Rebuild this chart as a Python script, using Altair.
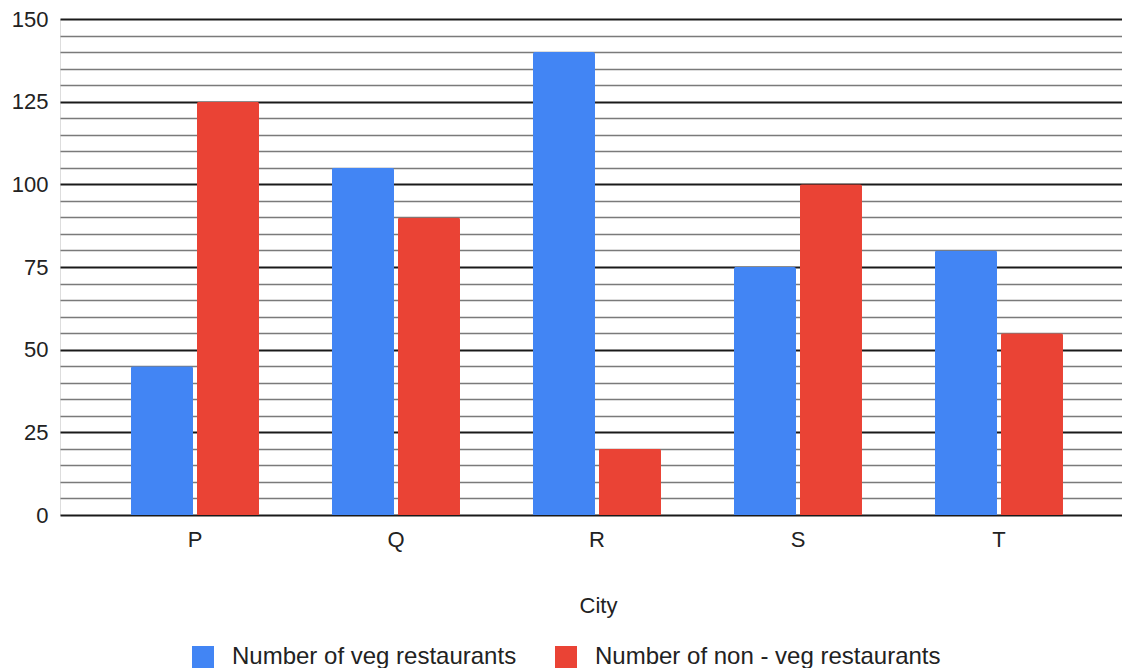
import altair as alt
import pandas as pd

cities = ["P", "Q", "R", "S", "T"]
veg = [45, 105, 140, 75, 80]
nonveg = [125, 90, 20, 100, 55]
series_names = ["Number of veg restaurants", "Number of non - veg restaurants"]
colors = ["#4285F4", "#EA4335"]
y_ticks = list(range(0, 151, 5))

rows = []
for c, v, n in zip(cities, veg, nonveg):
    rows.append({"City": c, "Series": series_names[0], "Value": v})
    rows.append({"City": c, "Series": series_names[1], "Value": n})
df = pd.DataFrame(rows)

FONT = "Liberation Sans"

chart = alt.Chart(df).mark_bar(cornerRadiusTopLeft=2, cornerRadiusTopRight=2).encode(
    x=alt.X("City:N", sort=cities,
            scale=alt.Scale(paddingInner=0.363, paddingOuter=0.3233, align=0.546),
            axis=alt.Axis(title="City", labelAngle=0, ticks=False, domain=False,
                          labelFontSize=22, labelColor="#222", labelFont=FONT,
                          labelPadding=14, titleFont=FONT, titleFontSize=22,
                          titleFontWeight="normal", titleColor="#222", titlePadding=45,
                          titleX=538)),
    xOffset=alt.XOffset("Series:N", sort=series_names,
                        scale=alt.Scale(paddingInner=0.06)),
    y=alt.Y("Value:Q", scale=alt.Scale(domain=[0, 150], nice=False),
            axis=alt.Axis(title=None, values=y_ticks, ticks=False, domain=False,
                          labelExpr="datum.value % 25 === 0 ? datum.label : ''",
                          labelFontSize=22, labelColor="#222", labelFont=FONT,
                          labelPadding=12,
                          gridColor=alt.condition("datum.value % 25 === 0",
                                                  alt.value("#1a1a1a"), alt.value("#7a7a7a")),
                          gridWidth=alt.condition("datum.value % 25 === 0",
                                                  alt.value(1.8), alt.value(1.5)),
                          gridOpacity=1)),
    color=alt.Color("Series:N", sort=series_names,
                    scale=alt.Scale(domain=series_names, range=colors),
                    legend=alt.Legend(title=None, orient="none", direction="horizontal",
                                      legendX=131, legendY=626,
                                      symbolType="square", symbolSize=484,
                                      symbolStrokeWidth=0, symbolOpacity=1,
                                      labelFontSize=24, labelFont=FONT, labelColor="#222",
                                      labelLimit=500,
                                      labelOffset=17, columnPadding=37)),
).properties(
    width=1062, height=496,
    autosize=alt.AutoSizeParams(type="none"),
    padding={"left": 52, "top": 11, "right": 0, "bottom": 153},
).configure_view(stroke=None).configure(background="white")

chart.save("out.html", embed_options={"renderer": "svg", "actions": False})
